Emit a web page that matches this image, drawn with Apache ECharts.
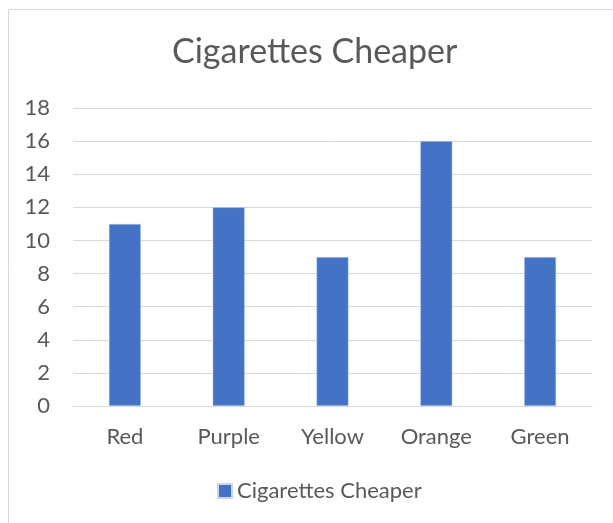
<!DOCTYPE html>
<html>
<head>
<meta charset="utf-8">
<script src="https://cdn.jsdelivr.net/npm/echarts@6/dist/echarts.min.js"></script>
<style>
  html, body { margin: 0; padding: 0; background: #fff; }
  #chart { width: 613px; height: 523px; }
</style>
</head>
<body>
<div id="chart"></div>
<script>
// Survey responses: which packet colour is cheaper
const categories = ['Red', 'Purple', 'Yellow', 'Orange', 'Green'];
const seriesName = 'Cigarettes Cheaper';
const values = [11, 12, 9, 16, 9];
const yTicks = { min: 0, max: 18, interval: 2 };

const textColor = '#595959';
const font = 'Lato';

const chart = echarts.init(document.getElementById('chart'), null, { renderer: 'canvas' });
chart.setOption({
  backgroundColor: '#ffffff',
  animation: false,
  graphic: [{
    type: 'rect',
    shape: { x: 8.5, y: 9.5, width: 700, height: 600 },
    style: { fill: 'none', stroke: '#d9d9d9', lineWidth: 1 },
    silent: true,
    z: -10
  }],
  title: {
    text: seriesName,
    left: 167,
    top: 30,
    textStyle: { fontFamily: font, fontSize: 34, fontWeight: 'normal', color: textColor }
  },
  legend: {
    bottom: 16,
    left: 212,
    itemWidth: 14,
    itemHeight: 14,
    icon: 'rect',
    textStyle: { fontFamily: font, fontSize: 22, color: textColor },
    data: [seriesName]
  },
  grid: { left: 73, right: 21, top: 108, bottom: 117, containLabel: false },
  xAxis: {
    type: 'category',
    data: categories,
    axisLine: { show: true, lineStyle: { color: '#d9d9d9', width: 1 } },
    axisTick: { show: false },
    axisLabel: { fontFamily: font, fontSize: 22, color: textColor, margin: 20 }
  },
  yAxis: {
    type: 'value',
    min: yTicks.min,
    max: yTicks.max,
    interval: yTicks.interval,
    axisLine: { show: false },
    axisTick: { show: false },
    splitLine: { lineStyle: { color: '#d9d9d9', width: 1 } },
    axisLabel: { fontFamily: font, fontSize: 22, color: textColor, margin: 23 }
  },
  series: [{
    name: seriesName,
    type: 'bar',
    data: values,
    barWidth: 32,
    itemStyle: { color: '#4472C4', borderColor: '#c9d6ee', borderWidth: 0.5 }
  }]
});
</script>
</body>
</html>
